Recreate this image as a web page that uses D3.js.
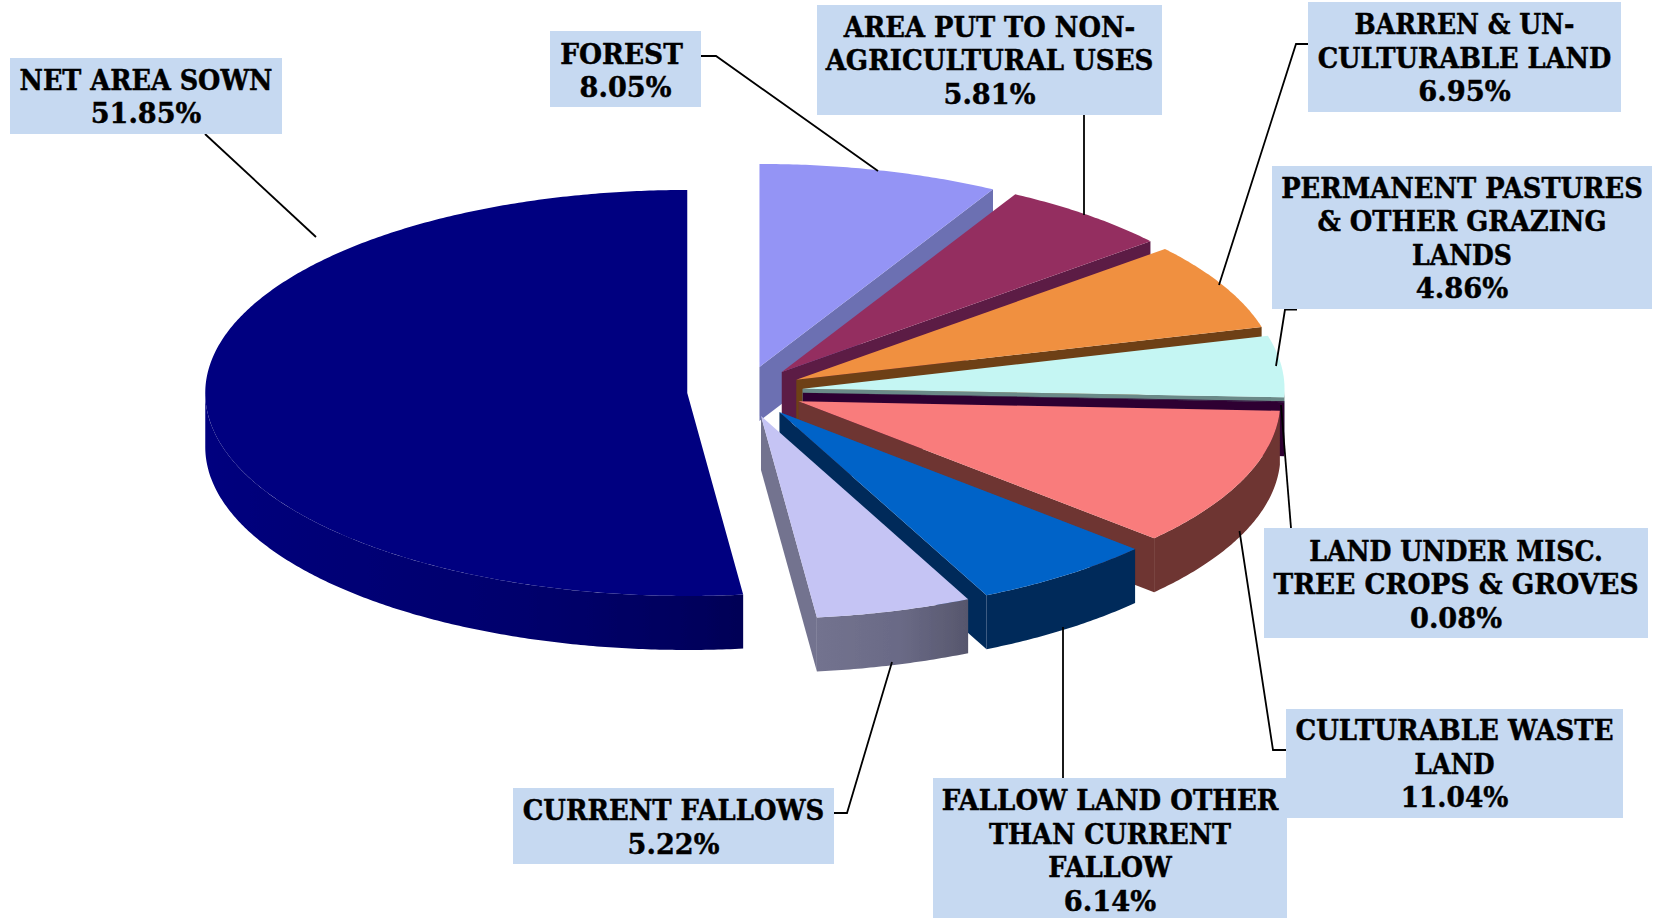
<!DOCTYPE html>
<html>
<head>
<meta charset="utf-8">
<script src="https://cdn.jsdelivr.net/npm/d3@7/dist/d3.min.js"></script>
<style>
html,body{margin:0;padding:0;background:#fff;overflow:hidden}
svg{display:block}
text{font-family:"DejaVu Serif",serif;font-weight:700;fill:#000;stroke:#000;stroke-width:0.45}
</style>
</head>
<body>
<div id="chart"></div>
<script>
// ---- data ----
const categories = ["FOREST","AREA PUT TO NON-AGRICULTURAL USES","BARREN & UN-CULTURABLE LAND","PERMANENT PASTURES & OTHER GRAZING LANDS","LAND UNDER MISC. TREE CROPS & GROVES","CULTURABLE WASTE LAND","FALLOW LAND OTHER THAN CURRENT FALLOW","CURRENT FALLOWS","NET AREA SOWN"];
const values = [8.05,5.81,6.95,4.86,0.08,11.04,6.14,5.22,51.85];
const labelLines = [["FOREST"],["AREA PUT TO NON-","AGRICULTURAL USES"],["BARREN & UN-","CULTURABLE LAND"],["PERMANENT PASTURES","& OTHER GRAZING","LANDS"],["LAND UNDER MISC.","TREE CROPS & GROVES"],["CULTURABLE WASTE","LAND"],["FALLOW LAND OTHER","THAN CURRENT","FALLOW"],["CURRENT FALLOWS"],["NET AREA SOWN"]];
const topColors = ["#9494F5","#942E60","#F09040","#C5F6F3","#2D0033","#F97B7B","#0063C8","#C5C4F4","#000080"];
const wallColors = ["#6C70B2","#5C1A45","#6E4016","#6B8A88","#2D0033","#6E3430","#002A5A","#6A6A84","#00006A"];

// ---- layout ----
const W = 1659, H = 918;
const cx = 745, cy = 391.5, rx = 482, ry = 203, depth = 54, explodeX = 0.12, explodeY = 0.125;
const boxes = [[550,31,701,107],[817,5,1162,115],[1308,2,1621,112],[1272,166,1652,309],[1264,528,1648,638],[1286,709,1623,818],[933,778,1287,930],[513,788,834,864],[10,58,282,134]];
const firstBaselines = [63.5,36.5,34,197.5,560.5,740,810,820,89.5];
const linePitch = 33.5;
// drawn width of each text line (name lines, then the percentage)
const lineWidths = [[122.6,91.8],[291.5,327.7,92],[220,293.7,92.6],[361.6,289,100,92.6],[293.7,365,92],[318,80,107.7],[336.7,242,123.5,92.3],[301.5,91.8],[253,110.6]];
const leaders = [
  [[701,56],[716,56],[878,171]],
  [[1084,115],[1084,215]],
  [[1308,44],[1296,44],[1219,285]],
  [[1297,309.5],[1285,309.5],[1276,366]],
  [[1291,528],[1281,405]],
  [[1286,750],[1273,750],[1239.5,531]],
  [[1063,778],[1063,627]],
  [[834,813],[847,813],[892,662]],
  [[205,134],[316,237]]
];

const svg = d3.select("#chart").append("svg").attr("width",W).attr("height",H).attr("viewBox",`0 0 ${W} ${H}`);
svg.append("rect").attr("width",W).attr("height",H).attr("fill","#fff");

const defs = svg.append("defs");
function grad(id,x1,x2,stops){
  const g = defs.append("linearGradient").attr("id",id).attr("gradientUnits","userSpaceOnUse")
    .attr("x1",x1).attr("x2",x2).attr("y1",0).attr("y2",0);
  stops.forEach(s=>g.append("stop").attr("offset",s[0]).attr("stop-color",s[1]));
}
grad("wallNet",205,745,[[0,"#00007F"],[0.1,"#00007A"],[0.3,"#000074"],[0.6,"#00006C"],[0.85,"#000060"],[1,"#000056"]]);
grad("wallCur",815,970,[[0,"#73738F"],[0.55,"#6A6A86"],[1,"#56566C"]]);
defs.append("filter").attr("id","soft").append("feGaussianBlur").attr("stdDeviation",0.6);

const xS = d3.scaleLinear().domain([-1,1]).range([cx-rx,cx+rx]);
const yS = d3.scaleLinear().domain([-1,1]).range([cy-ry,cy+ry]);
const pie = d3.pie().sort(null).value(d=>d);
const arcs = pie(values);
const line = d3.line();
const deg = Math.PI/180;

function unit(a,r){ return [Math.sin(a)*r, -Math.cos(a)*r]; }
function pt(a,r,ox,oy,dy){
  const u = unit(a,r);
  return [xS(u[0]+ox), yS(u[1]+oy)+(dy||0)];
}
function arcPts(a0,a1,ox,oy,dy){
  const n = Math.max(2,Math.ceil((a1-a0)/(0.5*deg)));
  return d3.range(n+1).map(i=>pt(a0+(a1-a0)*i/n,1,ox,oy,dy));
}

const g = svg.append("g").attr("filter","url(#soft)");
// painter's order: net area first, then clockwise from the top
const order = [8,0,1,2,3,4,5,6,7];
order.forEach(i=>{
  const d = arcs[i];
  const mid = (d.startAngle+d.endAngle)/2;
  const ox = unit(mid,explodeX)[0], oy = unit(mid,explodeY)[1];
  const v = [xS(ox),yS(oy)];
  const wall = i===8 ? "url(#wallNet)" : i===7 ? "url(#wallCur)" : wallColors[i];
  if(d.endAngle < Math.PI){
    const e = pt(d.endAngle,1,ox,oy);
    g.append("path").attr("d",line([v,e,[e[0],e[1]+depth],[v[0],v[1]+depth]])+"Z").attr("fill",wall);
  }
  const a0 = Math.max(d.startAngle,Math.PI/2), a1 = Math.min(d.endAngle,3*Math.PI/2);
  if(a1>a0){
    const up = arcPts(a0,a1,ox,oy,0);
    const dn = arcPts(a0,a1,ox,oy,depth).reverse();
    g.append("path").attr("d",line(up.concat(dn))+"Z").attr("fill",wall);
  }
  const top = [v].concat(arcPts(d.startAngle,d.endAngle,ox,oy,0));
  g.append("path").attr("d",line(top)+"Z").attr("fill",topColors[i]);
});

// leader lines
svg.append("g").selectAll("path").data(leaders).join("path")
  .attr("d",d=>line(d)).attr("fill","none").attr("stroke","#000").attr("stroke-width",1.8);

// label boxes, then text
svg.append("g").selectAll("rect").data(boxes).join("rect")
  .attr("x",d=>d[0]).attr("y",d=>d[1]).attr("width",d=>d[2]-d[0]).attr("height",d=>d[3]-d[1])
  .attr("fill","#C6D9F1");

const fmt = d3.format(".2f");
const fontSize = 27;
categories.forEach((c,i)=>{
  const b = boxes[i];
  const mx = (b[0]+b[2])/2;
  const lines = labelLines[i].concat([fmt(values[i])+"%"]);
  lines.forEach((l,k)=>{
    svg.append("text").attr("text-anchor","middle").attr("font-size",fontSize)
      .attr("x",mx - (i===0 && k===0 ? 4 : 0))
      .attr("y",firstBaselines[i]+k*linePitch)
      .attr("textLength",lineWidths[i][k]).attr("lengthAdjust","spacingAndGlyphs")
      .text(l);
  });
});
</script>
</body>
</html>
